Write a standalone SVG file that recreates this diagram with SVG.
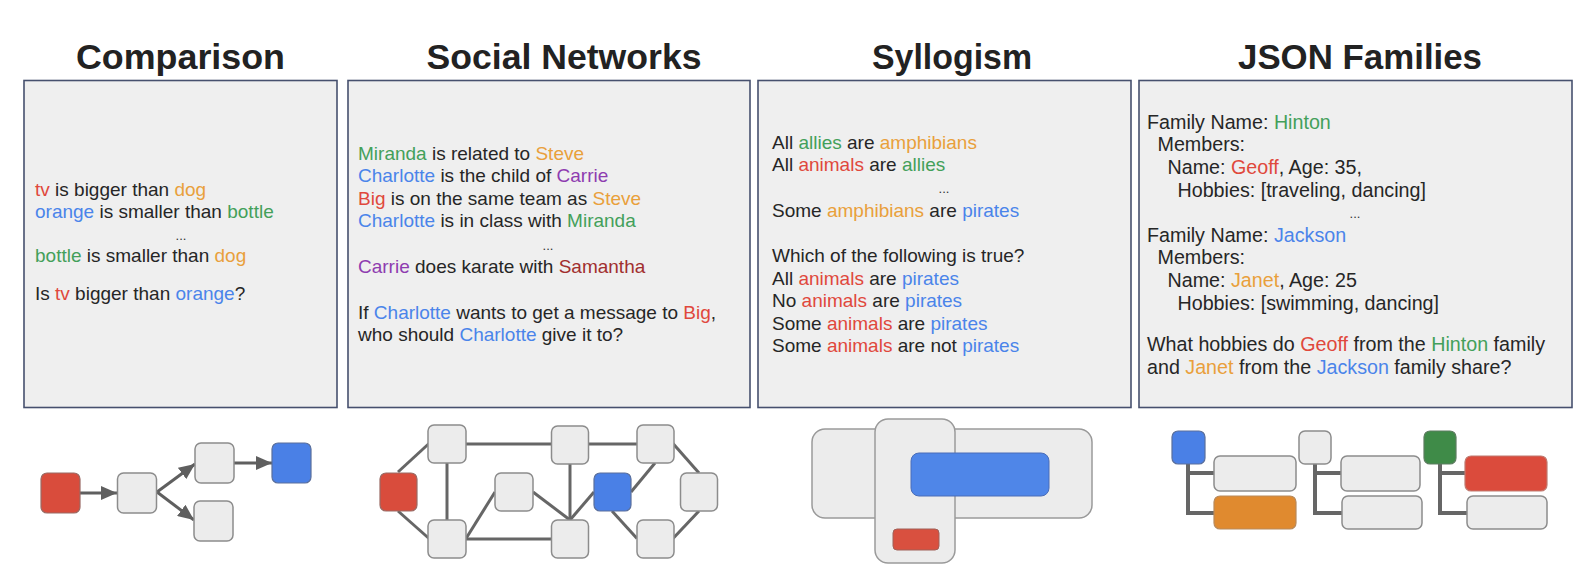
<svg xmlns="http://www.w3.org/2000/svg" width="1590" height="582" viewBox="0 0 1590 582">
<style>
.title{font-family:"Liberation Sans",Arial,sans-serif;font-weight:bold;font-size:35px;fill:#222;text-anchor:middle}
.body{font-family:"Liberation Sans",Arial,sans-serif;font-size:19px;fill:#262626}
.jbody{font-family:"Liberation Sans",Arial,sans-serif;font-size:19.7px;fill:#262626}
.dots{font-family:"Liberation Sans",Arial,sans-serif;font-size:13px;fill:#333;text-anchor:middle}
.panel{fill:#efefef;stroke:#46506e;stroke-width:1.6}
.r{fill:#e0483c}.o{fill:#e9a03b}.g{fill:#43a05a}.b{fill:#4a84ea}.p{fill:#8e3cb0}.dr{fill:#a12e2e}
.gn{fill:#ececec;stroke:#8c8c8c;stroke-width:1.5}
.rn{fill:#d94c3c;stroke:#9a6a64;stroke-width:1.2}
.bn{fill:#4a80e6;stroke:#5a6f9c;stroke-width:1.2}
.grn{fill:#3f8b48;stroke:#5d7d60;stroke-width:1.2}
.on{fill:#e08a2f;stroke:#b88a5c;stroke-width:1.2}
.edge{stroke:#666;stroke-width:3;fill:none}
.arrow{stroke:#5f5f5f;stroke-width:3;fill:none;marker-end:url(#ah)}
.tree{stroke:#666;stroke-width:4;fill:none}
.sg{fill:#ececec;stroke:#9a9a9a;stroke-width:1.5}
</style>
<defs>
<marker id="ah" markerUnits="userSpaceOnUse" markerWidth="16" markerHeight="14" refX="16" refY="7" orient="auto">
<path d="M0,0 L16,7 L0,14 z" fill="#5f5f5f"/>
</marker>
</defs>
<rect width="1590" height="582" fill="#ffffff"/>

<g id="title-comparison"><text class="title" x="180.5" y="69" textLength="209" lengthAdjust="spacingAndGlyphs">Comparison</text></g>
<g id="title-social"><text class="title" x="564" y="69" textLength="275" lengthAdjust="spacingAndGlyphs">Social Networks</text></g>
<g id="title-syllogism"><text class="title" x="952" y="69" textLength="160" lengthAdjust="spacingAndGlyphs">Syllogism</text></g>
<g id="title-json"><text class="title" x="1360" y="69" textLength="244" lengthAdjust="spacingAndGlyphs">JSON Families</text></g>

<g id="panel-comparison">
<rect class="panel" x="24" y="80.5" width="313" height="327"/>
<text class="body" x="35" y="196"><tspan class="r">tv</tspan> is bigger than <tspan class="o">dog</tspan></text>
<text class="body" x="35" y="218"><tspan class="b">orange</tspan> is smaller than <tspan class="g">bottle</tspan></text>
<text class="dots" x="181" y="240">...</text>
<text class="body" x="35" y="262"><tspan class="g">bottle</tspan> is smaller than <tspan class="o">dog</tspan></text>
<text class="body" x="35" y="300">Is <tspan class="r">tv</tspan> bigger than <tspan class="b">orange</tspan>?</text>
</g>

<g id="panel-social">
<rect class="panel" x="348" y="80.5" width="402" height="327"/>
<text class="body" x="358" y="159.5"><tspan class="g">Miranda</tspan> is related to <tspan class="o">Steve</tspan></text>
<text class="body" x="358" y="182"><tspan class="b">Charlotte</tspan> is the child of <tspan class="p">Carrie</tspan></text>
<text class="body" x="358" y="204.5"><tspan class="r">Big</tspan> is on the same team as <tspan class="o">Steve</tspan></text>
<text class="body" x="358" y="227"><tspan class="b">Charlotte</tspan> is in class with <tspan class="g">Miranda</tspan></text>
<text class="dots" x="548" y="250">...</text>
<text class="body" x="358" y="272.5"><tspan class="p">Carrie</tspan> does karate with <tspan class="dr">Samantha</tspan></text>
<text class="body" x="358" y="318.5">If <tspan class="b">Charlotte</tspan> wants to get a message to <tspan class="r">Big</tspan>,</text>
<text class="body" x="358" y="341">who should <tspan class="b">Charlotte</tspan> give it to?</text>
</g>

<g id="panel-syllogism">
<rect class="panel" x="758" y="80.5" width="373" height="327"/>
<text class="body" x="772" y="148.5">All <tspan class="g">allies</tspan> are <tspan class="o">amphibians</tspan></text>
<text class="body" x="772" y="171">All <tspan class="r">animals</tspan> are <tspan class="g">allies</tspan></text>
<text class="dots" x="944" y="193">...</text>
<text class="body" x="772" y="217">Some <tspan class="o">amphibians</tspan> are <tspan class="b">pirates</tspan></text>
<text class="body" x="772" y="262">Which of the following is true?</text>
<text class="body" x="772" y="284.5">All <tspan class="r">animals</tspan> are <tspan class="b">pirates</tspan></text>
<text class="body" x="772" y="307">No <tspan class="r">animals</tspan> are <tspan class="b">pirates</tspan></text>
<text class="body" x="772" y="329.5">Some <tspan class="r">animals</tspan> are <tspan class="b">pirates</tspan></text>
<text class="body" x="772" y="352">Some <tspan class="r">animals</tspan> are not <tspan class="b">pirates</tspan></text>
</g>

<g id="panel-json">
<rect class="panel" x="1139" y="80.5" width="433" height="327"/>
<text class="jbody" x="1147" y="128.5">Family Name: <tspan class="g">Hinton</tspan></text>
<text class="jbody" x="1157.5" y="151">Members:</text>
<text class="jbody" x="1167.5" y="174">Name: <tspan class="r">Geoff</tspan>, Age: 35,</text>
<text class="jbody" x="1177.5" y="196.5">Hobbies: [traveling, dancing]</text>
<text class="dots" x="1355" y="218">...</text>
<text class="jbody" x="1147" y="241.5">Family Name: <tspan class="b">Jackson</tspan></text>
<text class="jbody" x="1157.5" y="264">Members:</text>
<text class="jbody" x="1167.5" y="287">Name: <tspan class="o">Janet</tspan>, Age: 25</text>
<text class="jbody" x="1177.5" y="310">Hobbies: [swimming, dancing]</text>
<text class="jbody" x="1147" y="351">What hobbies do <tspan class="r">Geoff</tspan> from the <tspan class="g">Hinton</tspan> family</text>
<text class="jbody" x="1147" y="373.5">and <tspan class="o">Janet</tspan> from the <tspan class="b">Jackson</tspan> family share?</text>
</g>

<g id="connectors">
<line class="arrow" x1="80" y1="493" x2="117" y2="493"/>
<line class="arrow" x1="157" y1="492" x2="195" y2="464"/>
<line class="arrow" x1="157" y1="492" x2="194" y2="520"/>
<line class="arrow" x1="234" y1="463" x2="272" y2="463"/>

<line class="edge" x1="398" y1="472" x2="429" y2="443.5"/>
<line class="edge" x1="398" y1="511" x2="429" y2="538.5"/>
<line class="edge" x1="447" y1="463" x2="447" y2="520"/>
<line class="edge" x1="466" y1="444" x2="551" y2="444"/>
<line class="edge" x1="589" y1="444" x2="637" y2="444"/>
<line class="edge" x1="673" y1="443.5" x2="699" y2="473"/>
<line class="edge" x1="699" y1="511" x2="673" y2="538.5"/>
<line class="edge" x1="655" y1="463" x2="631" y2="492"/>
<line class="edge" x1="612" y1="511" x2="637" y2="538.5"/>
<line class="edge" x1="594" y1="492" x2="570" y2="520"/>
<line class="edge" x1="570" y1="464" x2="570" y2="520"/>
<line class="edge" x1="533" y1="492" x2="570" y2="520"/>
<line class="edge" x1="466" y1="538.5" x2="495" y2="492"/>
<line class="edge" x1="466" y1="539" x2="551" y2="539"/>

<path class="tree" d="M1188,464 V513 H1214 M1188,473 H1214"/>
<path class="tree" d="M1315,464 V513 H1342 M1315,473 H1341"/>
<path class="tree" d="M1440,464 V513 H1467 M1440,473 H1465"/>
</g>

<g id="cmp-node-red"><rect class="rn" x="41" y="473" width="39" height="40" rx="6"/></g>
<g id="cmp-node-mid"><rect class="gn" x="117.5" y="473" width="39" height="40" rx="6"/></g>
<g id="cmp-node-top"><rect class="gn" x="195" y="443" width="39" height="40" rx="6"/></g>
<g id="cmp-node-blue"><rect class="bn" x="272" y="443" width="39" height="40" rx="6"/></g>
<g id="cmp-node-bottom"><rect class="gn" x="194" y="501" width="39" height="40" rx="6"/></g>

<g id="sn-node-tl"><rect class="gn" x="428" y="425" width="38" height="38" rx="6"/></g>
<g id="sn-node-red"><rect class="rn" x="380" y="473" width="37" height="38" rx="6"/></g>
<g id="sn-node-bl"><rect class="gn" x="428" y="520" width="38" height="38" rx="6"/></g>
<g id="sn-node-m"><rect class="gn" x="495" y="473" width="38" height="38" rx="6"/></g>
<g id="sn-node-tm"><rect class="gn" x="551.5" y="426" width="37" height="38" rx="6"/></g>
<g id="sn-node-bm"><rect class="gn" x="551.5" y="520" width="37" height="38" rx="6"/></g>
<g id="sn-node-blue"><rect class="bn" x="594" y="473" width="37" height="38" rx="6"/></g>
<g id="sn-node-tr"><rect class="gn" x="637" y="425" width="37" height="38" rx="6"/></g>
<g id="sn-node-r"><rect class="gn" x="680.5" y="473" width="37" height="38" rx="6"/></g>
<g id="sn-node-br"><rect class="gn" x="637" y="520" width="37" height="38" rx="6"/></g>

<g id="syl-set-wide"><rect class="sg" x="812" y="429" width="280" height="89" rx="13"/></g>
<g id="syl-set-tall"><rect class="sg" x="875" y="419" width="80" height="144" rx="13"/></g>
<g id="syl-set-blue"><rect x="911" y="453" width="138" height="43" rx="8" fill="#4f86e8" stroke="#4a6db8" stroke-width="1"/></g>
<g id="syl-set-red"><rect x="893" y="529" width="46" height="21" rx="4" fill="#d9503f" stroke="#a06058" stroke-width="1"/></g>

<g id="json-fam1"><rect class="bn" x="1172" y="431" width="33" height="33" rx="6"/></g>
<g id="json-fam1-a"><rect class="gn" x="1214" y="456" width="82" height="35" rx="6"/></g>
<g id="json-fam1-b"><rect class="on" x="1214" y="496" width="82" height="33" rx="6"/></g>
<g id="json-fam2"><rect class="gn" x="1299" y="431" width="32" height="33" rx="6"/></g>
<g id="json-fam2-a"><rect class="gn" x="1341" y="456" width="79" height="35" rx="6"/></g>
<g id="json-fam2-b"><rect class="gn" x="1342" y="496" width="80" height="33" rx="6"/></g>
<g id="json-fam3"><rect class="grn" x="1424" y="431" width="32" height="33" rx="6"/></g>
<g id="json-fam3-a"><rect x="1465" y="456" width="82" height="35" rx="6" fill="#db4b3c" stroke="#c07a70" stroke-width="1.2"/></g>
<g id="json-fam3-b"><rect class="gn" x="1467" y="496" width="80" height="33" rx="6"/></g>
</svg>
